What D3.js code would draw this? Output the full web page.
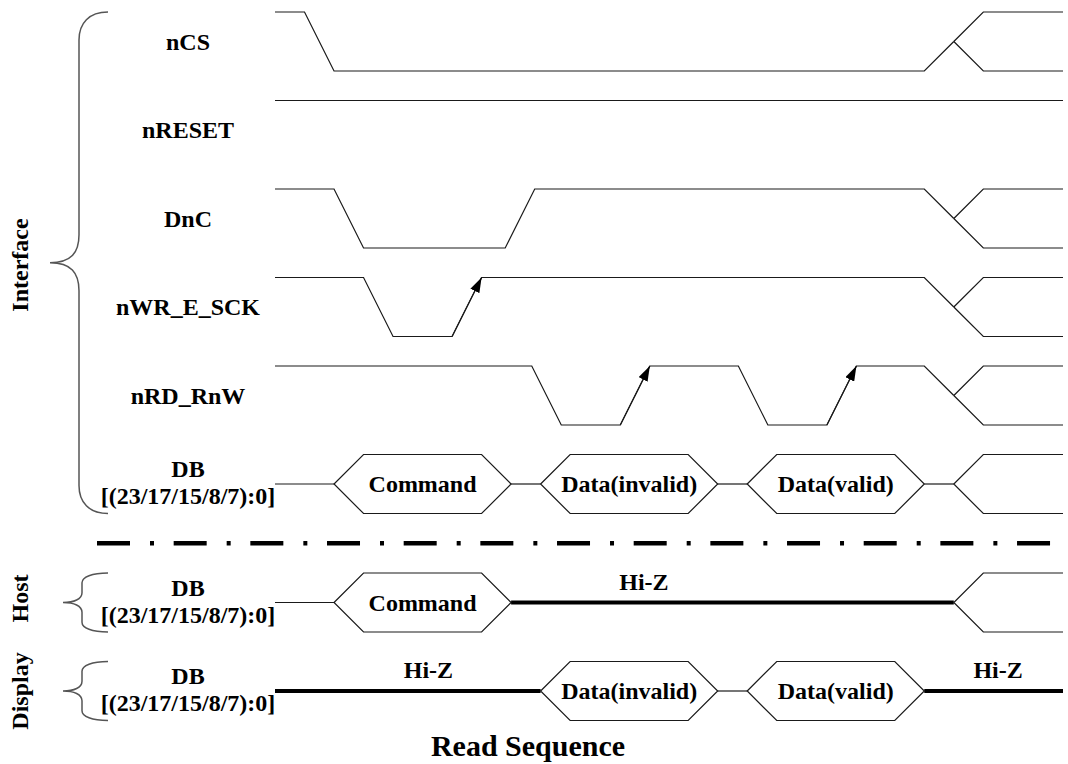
<!DOCTYPE html>
<html>
<head>
<meta charset="UTF-8">
<script src="https://d3js.org/d3.v7.min.js"></script>
<style>
  body { margin: 0; background: #fff; }
</style>
</head>
<body>
<svg id="chart" width="1068" height="764"></svg>
<script>
// time axis, in slant units (one edge = one unit)
var timeDomain = [0, 26.7];

// digital signals : [time, level]  (1 = high, 0 = low, 0.5 = crossing)
var signalNames = ["nCS", "nRESET", "DnC", "nWR_E_SCK", "nRD_RnW"];
var nCS      = [[0,1],[1,1],[2,0],[22,0],[23,0.5]];
var nRESET   = [[0,1],[26.7,1]];
var DnC      = [[0,1],[2,1],[3,0],[7.8,0],[8.8,1],[22,1],[23,0.5]];
var nWR      = [[0,1],[3,1],[4,0],[6,0],[7,1],[22,1],[23,0.5]];
var nRD      = [[0,1],[8.7,1],[9.7,0],[11.7,0],[12.7,1],[15.7,1],[16.7,0],[18.7,0],[19.7,1],[22,1],[23,0.5]];
var signalWaves = [nCS, nRESET, DnC, nWR, nRD];
// rising edges that carry an arrow : [from time, to time]
var nWRArrows = [[6,7]];
var nRDArrows = [[11.7,12.7],[18.7,19.7]];
var signalArrows = [[], [], [], nWRArrows, nRDArrows];
// signals that end in an unknown (split) state at t = 23
var signalSplit = [true, false, true, true, true];

// bus segments : [from, to, kind, label]
var busInterface = [[0,2,"line"],[2,8,"hex","Command"],[8,9,"line"],[9,15,"hex","Data(invalid)"],
                    [15,16,"line"],[16,22,"hex","Data(valid)"],[22,23,"line"],[23,26.7,"open"]];
var busHost      = [[0,2,"line"],[2,8,"hex","Command"],[8,23,"hiz"],[23,26.7,"open"]];
var busDisplay   = [[0,9,"hiz"],[9,15,"hex","Data(invalid)"],[15,16,"line"],[16,22,"hex","Data(valid)"],[22,26.7,"hiz"]];
// Hi-Z labels : [bus, time]
var hizLabels = [["Host",12.5],["Display",5.2],["Display",24.5]];

var busName = "DB";
var busRange = "[(23/17/15/8/7):0]";
var groupNames = ["Interface", "Host", "Display"];
var title = "Read Sequence";

var svg = d3.select("#chart");
var x = d3.scaleLinear().domain(timeDomain).range([275, 1063]);
var slant = x(1) - x(0);
var rowH = 59;
// row tops
var rowTop = d3.scaleLinear().domain([0, 1]).range([12, 100.5]);
var busTops = { Interface: rowTop(5), Host: 573, Display: 661.5 };
var labelX = 188;
var ink = "#1a1a1a";
var serif = "'Liberation Serif', 'Times New Roman', Times, 'DejaVu Serif', serif";

function label(sel, size) {
  return sel.attr("font-family", serif).attr("font-weight", "bold")
    .attr("font-size", size + "px").attr("fill", "#000")
    .style("font-family", serif);
}

var defs = svg.append("defs");
defs.append("marker")
    .attr("id", "arrow")
    .attr("markerUnits", "userSpaceOnUse")
    .attr("markerWidth", 16).attr("markerHeight", 10)
    .attr("refX", 15).attr("refY", 5)
    .attr("orient", "auto")
  .append("path")
    .attr("d", "M0,0 L15,5 L0,10 z")
    .attr("fill", "#000");

// --- digital signals
signalNames.forEach(function(name, i) {
  var top = rowTop(i), bot = top + rowH;
  var y = d3.scaleLinear().domain([0, 1]).range([bot, top]);
  var line = d3.line().x(function(d){ return x(d[0]); }).y(function(d){ return y(d[1]); });
  var g = svg.append("g");
  g.append("path").attr("d", line(signalWaves[i]))
    .attr("fill", "none").attr("stroke", ink).attr("stroke-width", 1.2);
  if (signalSplit[i]) {
    g.append("path").attr("d", line([[23,0.5],[24,1],[timeDomain[1],1]]))
      .attr("fill", "none").attr("stroke", ink).attr("stroke-width", 1.2);
    g.append("path").attr("d", line([[23,0.5],[24,0],[timeDomain[1],0]]))
      .attr("fill", "none").attr("stroke", ink).attr("stroke-width", 1.2);
  }
  signalArrows[i].forEach(function(a) {
    g.append("path").attr("d", line([[a[0],0],[a[1],1]]))
      .attr("fill", "none").attr("stroke", ink).attr("stroke-width", 1.2)
      .attr("marker-end", "url(#arrow)");
  });
  label(svg.append("text"), 24).attr("x", labelX).attr("y", (top + bot) / 2 + 8)
    .attr("text-anchor", "middle").text(name);
});

// --- buses
function drawBus(segs, top) {
  var bot = top + rowH, mid = top + rowH / 2;
  var g = svg.append("g");
  segs.forEach(function(s) {
    var a = x(s[0]), b = x(s[1]);
    if (s[2] === "line") {
      g.append("line").attr("x1", a).attr("x2", b).attr("y1", mid).attr("y2", mid)
        .attr("stroke", ink).attr("stroke-width", 1.2);
    } else if (s[2] === "hiz") {
      g.append("line").attr("x1", a).attr("x2", b).attr("y1", mid).attr("y2", mid)
        .attr("stroke", "#000").attr("stroke-width", 4);
    } else if (s[2] === "hex") {
      var pts = [[a,mid],[a+slant,top],[b-slant,top],[b,mid],[b-slant,bot],[a+slant,bot]];
      g.append("polygon").attr("points", pts.map(function(p){ return p.join(","); }).join(" "))
        .attr("fill", "none").attr("stroke", ink).attr("stroke-width", 1.2);
      label(g.append("text"), 24).attr("x", (a + b) / 2).attr("y", mid + 8)
        .attr("text-anchor", "middle").text(s[3]);
    } else if (s[2] === "open") {
      g.append("path").attr("d", "M" + b + "," + top + "H" + (a + slant) + "L" + a + "," + mid +
          "L" + (a + slant) + "," + bot + "H" + b)
        .attr("fill", "none").attr("stroke", ink).attr("stroke-width", 1.2);
    }
  });
  label(svg.append("text"), 24).attr("x", labelX).attr("y", mid - 7)
    .attr("text-anchor", "middle").text(busName);
  label(svg.append("text"), 24).attr("x", labelX).attr("y", mid + 20)
    .attr("text-anchor", "middle").text(busRange);
}
drawBus(busInterface, busTops.Interface);
drawBus(busHost, busTops.Host);
drawBus(busDisplay, busTops.Display);

hizLabels.forEach(function(h) {
  label(svg.append("text"), 24).attr("x", x(h[1])).attr("y", busTops[h[0]] + rowH / 2 - 13)
    .attr("text-anchor", "middle").text("Hi-Z");
});

// --- separator
var sepY = (busTops.Interface + rowH + busTops.Host) / 2;
svg.append("line").attr("x1", 97).attr("x2", 1052).attr("y1", sepY).attr("y2", sepY)
  .attr("stroke", "#000").attr("stroke-width", 4.5)
  .attr("stroke-dasharray", "33,20,4,19.67");

// --- braces
var braceColor = "#555";
function brace(topY, botY, tipX, vx) {
  var midY = (topY + botY) / 2, r = Math.min(28, (botY - topY) / 6);
  var d = "M108," + topY +
    "C" + (vx + 10) + "," + topY + " " + vx + "," + (topY + r * 0.4) + " " + vx + "," + (topY + r) +
    "L" + vx + "," + (midY - r) +
    "C" + vx + "," + (midY - r * 0.35) + " " + (vx - 8) + "," + midY + " " + tipX + "," + midY +
    "C" + (vx - 8) + "," + midY + " " + vx + "," + (midY + r * 0.35) + " " + vx + "," + (midY + r) +
    "L" + vx + "," + (botY - r) +
    "C" + vx + "," + (botY - r * 0.4) + " " + (vx + 10) + "," + botY + " 108," + botY;
  svg.append("path").attr("d", d).attr("fill", "none")
    .attr("stroke", braceColor).attr("stroke-width", 1.5);
}
brace(rowTop(0), busTops.Interface + rowH, 50, 79);
brace(busTops.Host, busTops.Host + rowH, 63, 82);
brace(busTops.Display, busTops.Display + rowH, 63, 82);

// --- group labels
var groupCenters = [265, busTops.Host + rowH / 2 - 4, busTops.Display + rowH / 2];
groupNames.forEach(function(n, i) {
  label(svg.append("text"), 24).attr("transform", "translate(28," + groupCenters[i] + ") rotate(-90)")
    .attr("text-anchor", "middle").text(n);
});

// --- title
label(svg.append("text"), 30).attr("x", 528).attr("y", 756)
  .attr("text-anchor", "middle").text(title);
</script>
</body>
</html>
